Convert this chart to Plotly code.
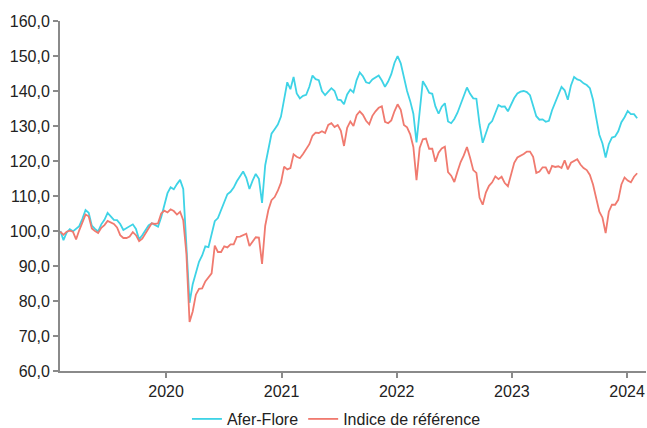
import pandas as pd
import plotly.graph_objects as go

# Sampling dates (approx. every 10 days over the period shown)
dates = pd.date_range("2019-01-31", "2024-02-02", periods=184)

afer_flore = [
    100.0, 97.4, 99.5, 100.5, 99.9, 100.8, 101.4, 103.5, 106.0, 105.2,
    101.5, 100.6, 99.9, 101.9, 103.2, 105.2, 104.2, 103.2, 103.1, 102.0,
    100.3, 100.8, 101.2, 101.9, 100.6, 97.6, 98.8, 100.1, 101.6, 102.2,
    101.7, 101.2, 103.9, 107.5, 110.8, 112.5, 111.9, 113.4, 114.6, 112.0,
    97.0, 79.5, 84.8, 88.3, 91.2, 93.0, 95.6, 95.4, 99.1, 102.8,
    103.7, 106.0, 108.5, 110.5, 111.2, 112.4, 114.2, 115.5, 117.0, 115.2,
    112.0, 114.4, 116.3, 114.9, 108.0, 118.8, 123.2, 127.8, 129.1, 130.4,
    132.7, 138.0, 142.5, 140.5, 144.0, 139.3, 137.9, 138.6, 138.9, 141.2,
    144.4, 143.4, 143.1, 140.0, 138.8, 139.8, 140.8, 140.0, 137.5, 137.4,
    136.2, 139.0, 140.4, 139.6, 143.1, 145.3, 144.2, 142.5, 142.2, 143.3,
    143.8, 144.4, 143.0, 141.2, 142.7, 144.8, 148.0, 150.0, 147.9, 143.7,
    140.0, 137.1, 133.5, 125.3, 134.3, 142.8, 141.3, 139.5, 139.2, 135.6,
    133.5, 135.5, 136.5, 131.3, 130.8, 132.0, 133.8, 136.3, 138.5, 141.0,
    139.2, 137.9, 137.8, 130.5, 125.2, 127.6, 130.5, 131.4, 133.6, 136.0,
    135.5, 135.6, 134.2, 136.2, 138.0, 139.3, 139.8, 140.0, 139.7, 138.8,
    135.5, 132.8, 131.8, 131.9, 131.2, 131.5, 134.5, 136.8, 139.2, 141.2,
    140.2, 137.5, 141.6, 144.0, 143.3, 143.0, 142.2, 141.7, 140.8, 137.5,
    132.4, 127.5, 125.0, 121.0, 124.8, 126.7, 127.0, 128.5, 131.1, 132.5,
    134.3, 133.4, 133.4, 132.2,
]

indice_reference = [
    99.8, 98.9, 99.8, 100.1, 99.8, 97.6, 100.2, 102.5, 104.7, 104.2,
    100.7, 100.0, 99.4, 100.9, 101.7, 102.9, 102.4, 102.0, 101.0, 98.8,
    98.0, 98.0, 98.4, 99.7, 98.8, 97.1, 97.8, 99.3, 100.7, 102.2,
    102.0, 102.2, 105.0, 105.8, 105.3, 106.2, 105.7, 104.7, 105.5, 103.1,
    93.5, 74.0, 77.0, 81.8, 83.5, 83.6, 85.6, 86.9, 87.9, 95.8,
    94.0, 94.0, 95.6, 95.3, 96.2, 96.2, 98.3, 98.4, 98.9, 99.2,
    95.7, 96.8, 98.2, 98.1, 90.6, 101.5, 106.0, 108.8, 109.7, 111.5,
    113.8, 118.4, 117.6, 118.0, 121.9, 121.2, 120.8, 122.0, 123.5, 124.8,
    127.2, 128.1, 128.0, 128.5, 128.0, 130.3, 130.8, 129.7, 130.3, 128.6,
    124.3, 129.5, 131.3, 130.0, 133.1, 134.2, 133.2, 131.5, 130.5, 132.9,
    134.2, 135.2, 135.6, 131.2, 130.8, 131.6, 134.2, 136.2, 134.6, 130.3,
    129.6, 127.6, 124.0, 114.5, 123.7, 126.2, 126.4, 123.5, 123.5, 119.8,
    122.4, 123.6, 124.1, 116.8, 115.8, 114.0, 117.0, 119.7, 121.6, 124.0,
    120.9, 117.4, 116.6, 109.5, 107.5, 111.0, 112.9, 113.9, 115.6, 114.8,
    115.5, 113.7, 112.8, 115.9, 119.5, 121.0, 121.4, 122.0, 122.7, 122.7,
    121.2, 116.6, 117.0, 118.2, 118.2, 116.3, 118.6, 118.3, 118.5, 118.0,
    120.2, 117.6, 119.5, 120.0, 120.5, 119.0, 118.0, 117.4, 116.0, 113.3,
    109.3, 105.5, 103.8, 99.4, 105.5, 107.5, 107.5, 108.9, 113.3, 115.3,
    114.4, 113.9, 115.5, 116.5,
]

year_ticks = ["2020-01-01", "2021-01-01", "2022-01-01", "2023-01-01", "2024-01-01"]
year_labels = ["2020", "2021", "2022", "2023", "2024"]

CYAN = "#3ed3e6"
RED = "#f07a6f"
AXIS = "#8a8a8a"

fig = go.Figure()
fig.add_trace(go.Scatter(x=dates, y=afer_flore, mode="lines", name="Afer-Flore",
                         line=dict(color=CYAN, width=1.8)))
fig.add_trace(go.Scatter(x=dates, y=indice_reference, mode="lines", name="Indice de référence",
                         line=dict(color=RED, width=1.8)))

fig.update_layout(
    width=647, height=428,
    margin=dict(l=60, r=1, t=21, b=57, autoexpand=False),
    paper_bgcolor="white", plot_bgcolor="white",
    separators=", ",
    font=dict(family="Liberation Sans, Arial, sans-serif", size=16, color="#222222"),
    showlegend=True,
    legend=dict(orientation="h", xref="container", x=0.52, xanchor="center",
                yref="container", y=0.021, yanchor="middle",
                font=dict(size=16), itemwidth=30, bgcolor="rgba(0,0,0,0)"),
)
fig.update_xaxes(
    type="date", range=["2019-01-30", "2024-03-01"],
    tickvals=year_ticks, ticktext=year_labels,
    showgrid=False, zeroline=False,
    showline=True, linecolor=AXIS, linewidth=2,
    ticks="outside", ticklen=5, tickwidth=2, tickcolor=AXIS,
)
fig.update_yaxes(
    range=[60, 160], dtick=10, tick0=60, tickformat=".1f",
    showgrid=False, zeroline=False,
    showline=True, linecolor=AXIS, linewidth=2,
    ticks="outside", ticklen=5, tickwidth=2, tickcolor=AXIS,
)

fig.write_html("out.html")
